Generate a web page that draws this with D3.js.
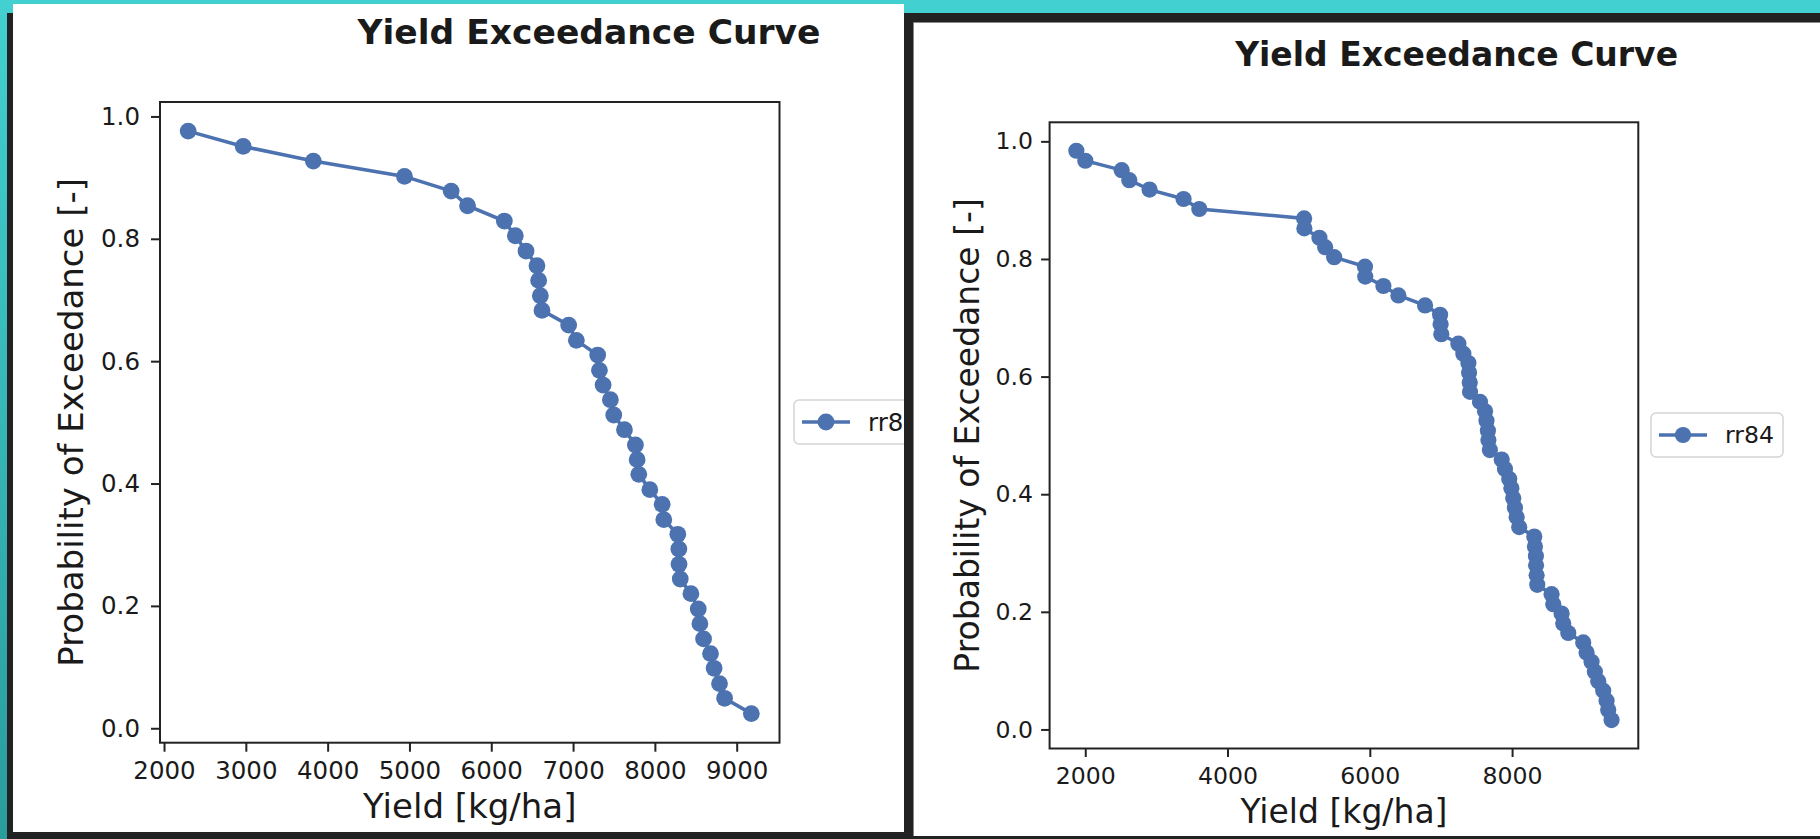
<!DOCTYPE html>
<html>
<head>
<meta charset="utf-8">
<script src="https://cdn.jsdelivr.net/npm/d3@7/dist/d3.min.js"></script>
<style>
	body { margin: 0; background: #222; }
	svg { display: block; }
	text { font-family: "DejaVu Sans", sans-serif; fill: #1a1a1a; }
</style>
</head>
<body>
<svg id="shot" width="1820" height="839"></svg>
<script>
var titleText = "Yield Exceedance Curve";
var xLabel = "Yield [kg/ha]";
var yLabel = "Probability of Exceedance [-]";
var seriesName = "rr84";

// left screenshot: 40 simulated years
var leftYield = [2295, 2968, 3825, 4939, 5510, 5710, 6160, 6294, 6425, 6559, 6579, 6600, 6620, 6946, 7040, 7301, 7322, 7367, 7456, 7497,
	7628, 7762, 7783, 7803, 7938, 8089, 8109, 8280, 8293, 8295, 8310, 8440, 8530, 8550, 8595, 8680, 8724, 8790, 8852, 9179];
var leftProb = [0.976, 0.951, 0.927, 0.902, 0.878, 0.854, 0.829, 0.805, 0.780, 0.756, 0.732, 0.707, 0.683, 0.659, 0.634, 0.610, 0.585, 0.561, 0.537, 0.512,
	0.488, 0.463, 0.439, 0.415, 0.390, 0.366, 0.341, 0.317, 0.293, 0.268, 0.244, 0.220, 0.195, 0.171, 0.146, 0.122, 0.098, 0.073, 0.049, 0.024];
var leftXTicks = [2000, 3000, 4000, 5000, 6000, 7000, 8000, 9000];

// right screenshot: 60 simulated years
var rightYield = [1875, 2001, 2512, 2619, 2904, 3382, 3603, 5077, 5080, 5292, 5372, 5499, 5932, 5936, 6191, 6402, 6777, 6988, 6995, 7005,
	7245, 7315, 7386, 7395, 7405, 7409, 7549, 7620, 7640, 7660, 7667, 7688, 7854, 7900, 7960, 7990, 8016, 8040, 8064, 8100,
	8312, 8321, 8335, 8337, 8345, 8354, 8555, 8579, 8696, 8719, 8790, 9000, 9047, 9117, 9164, 9211, 9281, 9328, 9351, 9398];
var rightProb = [0.984, 0.967, 0.951, 0.934, 0.918, 0.902, 0.885, 0.869, 0.852, 0.836, 0.820, 0.803, 0.787, 0.770, 0.754, 0.738, 0.721, 0.705, 0.689, 0.672,
	0.656, 0.639, 0.623, 0.607, 0.590, 0.574, 0.557, 0.541, 0.525, 0.508, 0.492, 0.475, 0.459, 0.443, 0.426, 0.410, 0.393, 0.377, 0.361, 0.344,
	0.328, 0.311, 0.295, 0.279, 0.262, 0.246, 0.230, 0.213, 0.197, 0.180, 0.164, 0.148, 0.131, 0.115, 0.098, 0.082, 0.066, 0.049, 0.033, 0.016];
var rightXTicks = [2000, 4000, 6000, 8000];

var yTicks = [0, 0.2, 0.4, 0.6, 0.8, 1.0];

var blue = "#4c72b0";
var svg = d3.select("#shot");

// the backdrop: teal desktop, dark window frames, two white figure panels
var grad = svg.append("defs").append("linearGradient").attr("id", "teal").attr("x1", 0).attr("y1", 0).attr("x2", 0).attr("y2", 1);
grad.append("stop").attr("offset", 0).attr("stop-color", "#43d0d0");
grad.append("stop").attr("offset", 1).attr("stop-color", "#2a9c9c");
svg.append("rect").attr("width", 1820).attr("height", 839).attr("fill", "#222");
svg.append("rect").attr("width", 1820).attr("height", 13).attr("fill", "#43d0d0");
svg.append("rect").attr("width", 7).attr("height", 839).attr("fill", "url(#teal)");
svg.append("rect").attr("x", 13).attr("y", 4).attr("width", 891).attr("height", 828).attr("fill", "#fff");
svg.append("rect").attr("x", 913).attr("y", 23).attr("width", 907).attr("height", 813).attr("fill", "#fff");
svg.append("path").attr("d", "M913.5,836V22.5H1820").attr("fill", "none").attr("stroke", "#8a8a8a").attr("stroke-width", 1);
svg.select("defs").append("clipPath").attr("id", "leftclip").append("rect").attr("x", 13).attr("y", 4).attr("width", 891).attr("height", 828);

function padded(values) {
	// matplotlib style 5% margin on both sides of the data
	var ext = d3.extent(values), m = (ext[1] - ext[0]) * 0.05;
	return [ext[0] - m, ext[1] + m];
}

function drawChart(g, c) {
	var x = d3.scaleLinear().domain(padded(c.xs)).range([c.left, c.right]);
	var y = d3.scaleLinear().domain(padded(c.ys)).range([c.bottom, c.top]);
	var pts = c.xs.map(function(v, i) {return [v, c.ys[i]];});

	var xaxis = g.append("g").attr("transform", "translate(0," + c.bottom + ")")
		.call(d3.axisBottom(x).tickValues(c.xTicks).tickFormat(d3.format("d")).tickSize(c.tick).tickPadding(c.xPad));
	var yaxis = g.append("g").attr("transform", "translate(" + c.left + ",0)")
		.call(d3.axisLeft(y).tickValues(yTicks).tickFormat(d3.format(".1f")).tickSize(c.tick).tickPadding(c.yPad));
	[xaxis, yaxis].forEach(function(a) {
		a.select(".domain").remove();
		a.attr("font-family", null).attr("font-size", null);
		a.selectAll("line").attr("stroke", "#222").attr("stroke-width", 2);
		a.selectAll("text").style("font-size", c.tickFont + "px").attr("fill", "#1a1a1a");
	});

	g.append("path").datum(pts).attr("fill", "none").attr("stroke", blue).attr("stroke-width", c.lw)
		.attr("d", d3.line().x(function(d) {return x(d[0]);}).y(function(d) {return y(d[1]);}));
	g.selectAll("circle.pt").data(pts).enter().append("circle").attr("class", "pt")
		.attr("cx", function(d) {return x(d[0]);}).attr("cy", function(d) {return y(d[1]);})
		.attr("r", c.r).attr("fill", blue);

	// axes frame drawn on top, like matplotlib spines
	g.append("rect").attr("x", c.left).attr("y", c.top).attr("width", c.right - c.left).attr("height", c.bottom - c.top)
		.attr("fill", "none").attr("stroke", "#222").attr("stroke-width", 2);

	g.append("text").attr("x", c.titleX).attr("y", c.titleY).attr("text-anchor", "middle")
		.style("font-size", c.titleFont + "px").style("font-weight", "bold").attr("fill", "#000").text(titleText);
	g.append("text").attr("x", (c.left + c.right) / 2).attr("y", c.xLabelY).attr("text-anchor", "middle")
		.style("font-size", c.labelFont + "px").text(xLabel);
	g.append("text").attr("transform", "translate(" + c.yLabelX + "," + (c.top + c.bottom) / 2 + ") rotate(-90)").attr("text-anchor", "middle")
		.style("font-size", c.labelFont + "px").text(yLabel);

	// legend sits outside the axes on the right
	var leg = g.append("g").attr("transform", "translate(" + c.legX + "," + c.legY + ")");
	leg.append("rect").attr("width", c.legW).attr("height", c.legH).attr("rx", 5)
		.attr("fill", "#fff").attr("stroke", "#d4d4d4").attr("stroke-width", 1.5);
	leg.append("line").attr("x1", 8).attr("x2", 56).attr("y1", c.legH / 2).attr("y2", c.legH / 2)
		.attr("stroke", blue).attr("stroke-width", c.lw);
	leg.append("circle").attr("cx", 32).attr("cy", c.legH / 2).attr("r", c.r).attr("fill", blue);
	leg.append("text").attr("x", 74).attr("y", c.legH / 2).attr("dy", "0.36em")
		.style("font-size", c.tickFont + "px").text(seriesName);
}

drawChart(svg.append("g").attr("clip-path", "url(#leftclip)"), {
	xs: leftYield, ys: leftProb, xTicks: leftXTicks,
	left: 160, right: 779.5, top: 102, bottom: 742.7,
	tick: 9, xPad: 10, yPad: 11, tickFont: 24.5, labelFont: 34, titleFont: 34.5,
	r: 8.4, lw: 3.6,
	titleX: 589, titleY: 44, xLabelY: 818, yLabelX: 83,
	legX: 794, legY: 400, legW: 140, legH: 44
});

drawChart(svg.append("g"), {
	xs: rightYield, ys: rightProb, xTicks: rightXTicks,
	left: 1049.6, right: 1638.3, top: 122.3, bottom: 748.5,
	tick: 8.5, xPad: 10, yPad: 8, tickFont: 23.6, labelFont: 33, titleFont: 33,
	r: 8.1, lw: 3.5,
	titleX: 1456.6, titleY: 65.5, xLabelY: 823, yLabelX: 979,
	legX: 1651, legY: 413, legW: 132, legH: 44
});
</script>
</body>
</html>
